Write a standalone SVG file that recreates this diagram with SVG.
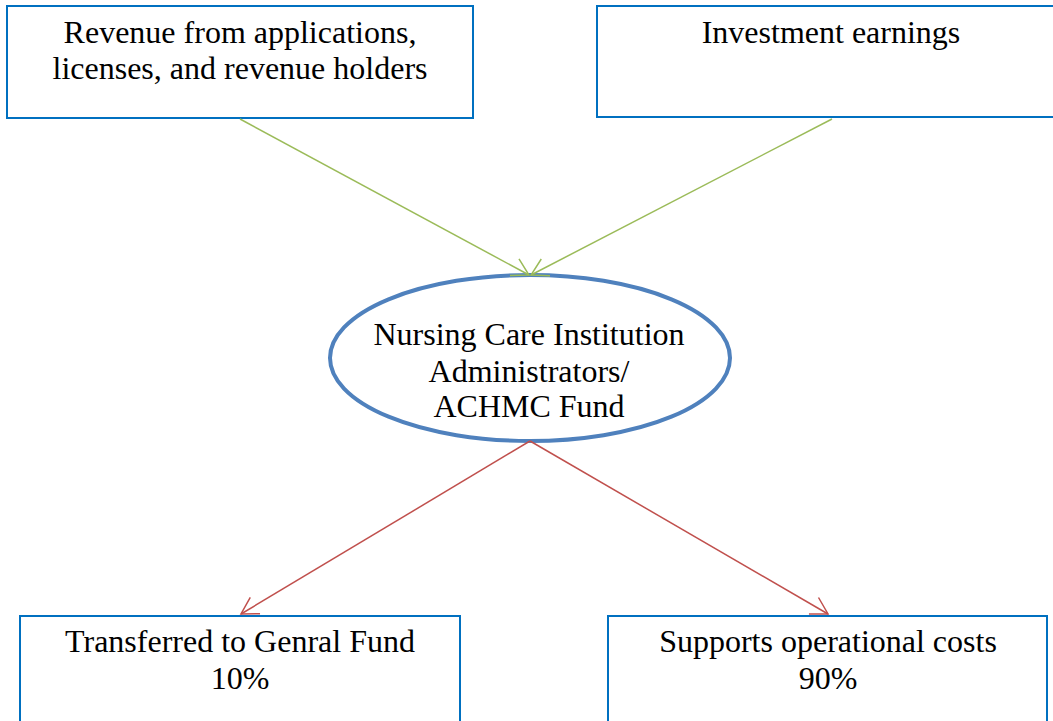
<svg xmlns="http://www.w3.org/2000/svg" width="1053" height="721" viewBox="0 0 1053 721">
<style>
.box{fill:#fff;stroke:#0070C0;stroke-width:2}
.t{font-family:"Liberation Serif","Times New Roman",serif;font-size:32px;fill:#000;text-anchor:middle}
.g{stroke:#9BBB59;stroke-width:1.5;fill:none}
.r{stroke:#C0504D;stroke-width:1.5;fill:none}
</style>
<defs>
<marker id="ag" markerUnits="userSpaceOnUse" markerWidth="40" markerHeight="40" viewBox="-20 -20 40 40" refX="0" refY="0" orient="auto" overflow="visible">
<path d="M-16.5,-9.5 L0,0 L-16.5,9.5" fill="none" stroke="#9BBB59" stroke-width="1.5"/>
</marker>
<marker id="ar" markerUnits="userSpaceOnUse" markerWidth="40" markerHeight="40" viewBox="-20 -20 40 40" refX="0" refY="0" orient="auto" overflow="visible">
<path d="M-16.5,-9.5 L0,0 L-16.5,9.5" fill="none" stroke="#C0504D" stroke-width="1.5"/>
</marker>
</defs>
<g id="n1"><rect class="box" x="7" y="6" width="466" height="112"/>
<text class="t" x="240" y="43">Revenue from applications,</text>
<text class="t" x="240" y="79">licenses, and revenue holders</text></g>
<g id="n2"><rect class="box" x="597" y="6" width="468" height="111"/>
<text class="t" x="831" y="43">Investment earnings</text></g>
<g id="n3"><ellipse cx="530" cy="358" rx="200" ry="83" fill="#fff" stroke="#4F81BD" stroke-width="4"/>
<text class="t" x="529" y="345">Nursing Care Institution</text>
<text class="t" x="529" y="382">Administrators/</text>
<text class="t" x="529" y="417">ACHMC Fund</text></g>
<g id="n4"><rect class="box" x="20" y="616" width="440" height="120"/>
<text class="t" x="240" y="652">Transferred to Genral Fund</text>
<text class="t" x="240" y="689">10%</text></g>
<g id="n5"><rect class="box" x="608" y="616" width="439" height="120"/>
<text class="t" x="828" y="652">Supports operational costs</text>
<text class="t" x="828" y="689">90%</text></g>
<g id="connectors">
<line class="g" x1="240" y1="119" x2="529" y2="275" marker-end="url(#ag)"/>
<line class="g" x1="832" y1="119" x2="531" y2="275" marker-end="url(#ag)"/>
<line class="r" x1="530" y1="441" x2="241" y2="614" marker-end="url(#ar)"/>
<line class="r" x1="530" y1="441" x2="828" y2="614" marker-end="url(#ar)"/>
</g>
</svg>
